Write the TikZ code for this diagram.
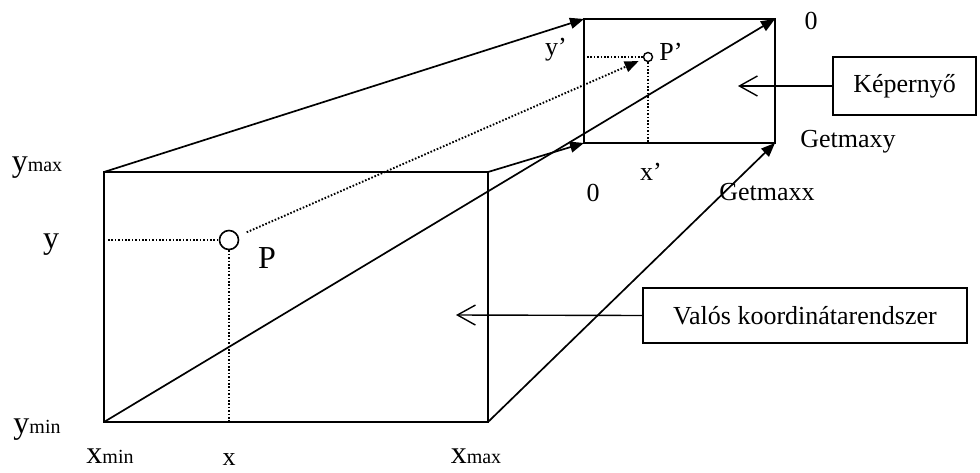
\documentclass[tikz,border=0pt]{standalone}
\usepackage{fontspec}
\setmainfont{Liberation Serif}
\usetikzlibrary{arrows.meta}
\begin{document}
\begin{tikzpicture}[x=1pt,y=-1pt,
  edge/.style={line width=1.7pt},
  fwd/.style={edge,-{Triangle[length=14pt,width=11pt]}},
  dotl/.style={line width=1.9pt,dash pattern=on 1.6pt off 1.8pt},
  lbl/.style={inner sep=0pt,font=\fontsize{26}{30}\selectfont},
  big/.style={inner sep=0pt,font=\fontsize{32}{36}\selectfont},
  callout/.style={draw,line width=1.6pt,inner sep=0pt,font=\fontsize{26}{30}\selectfont},
  pointer/.style={line width=1.4pt,-{Straight Barb[length=18pt,width=20pt,line width=1.4pt]}}]
\useasboundingbox (0,0) rectangle (980,472);
% real world rectangle
\coordinate (A) at (104,172);
\coordinate (B) at (488,172);
\coordinate (C) at (488,422);
\coordinate (D) at (104,422);
% screen rectangle
\coordinate (E) at (584,19);
\coordinate (F) at (775,19);
\coordinate (G) at (775,143);
\coordinate (H) at (584,143);
\draw[edge] (A) -- (B) -- (C) -- (D) -- cycle;
\draw[edge] (E) -- (F) -- (G) -- (H) -- cycle;
\draw[fwd] (A) -- (E);
\draw[fwd] (D) -- (F);
\draw[fwd] (B) -- (H);
\draw[fwd] (C) -- (G);
% point P
\node[circle,draw,line width=1.6pt,minimum size=19pt,inner sep=0pt] (P) at (229,240) {};
\coordinate (Py0) at (108,240);
\coordinate (Px0) at (229,422);
\draw[dotl] (Py0) -- (P.west);
\draw[dotl] (P.south) -- (Px0);
% point P'
\node[circle,draw,line width=1.4pt,minimum size=9pt,inner sep=0pt] (Q) at (648,57) {};
\coordinate (Qy0) at (587,57);
\coordinate (Qx0) at (648,143);
\draw[dotl] (Qy0) -- (Q.west);
\draw[dotl] (Q.south) -- (Qx0);
\draw[dotl,-{Triangle[length=14pt,width=11pt]}] (P) -- (Q) [shorten <=9pt, shorten >=5pt];
% labels
\node[inner sep=0pt] (ymax) at (37,168) {\fontsize{32}{36}\selectfont y\fontsize{20}{24}\selectfont max};
\node[big] (ylab) at (51,245) {y};
\node[inner sep=0pt] (ymin) at (37,430) {\fontsize{32}{36}\selectfont y\fontsize{20}{24}\selectfont min};
\node[inner sep=0pt,anchor=base] (xmin) at (110,463) {\fontsize{32}{36}\selectfont x\fontsize{20}{24}\selectfont min};
\node[inner sep=0pt,anchor=base,font=\fontsize{26}{30}\selectfont] (xlab) at (229,465) {x};
\node[inner sep=0pt,anchor=base] (xmax) at (476,463) {\fontsize{32}{36}\selectfont x\fontsize{20}{24}\selectfont max};
\node[big] (Plab) at (267,258) {P};
\node[lbl] (Qlab) at (671,52) {P’};
\node[lbl] (yp) at (556,50) {y’};
\node[lbl] (xp) at (651,172) {x’};
\node[lbl] (zero1) at (593,193) {0};
\node[lbl] (zero2) at (811,21) {0};
\node[lbl] (gmx) at (767,192) {Getmaxx};
\node[lbl] (gmy) at (848,142) {Getmaxy};
% callouts
\node[callout,minimum width=143pt,minimum height=58pt] (kep) at (904.5,86) {Képernyő};
\node[callout,minimum width=324pt,minimum height=55pt] (val) at (805,315.5) {Valós koordinátarendszer};
\coordinate (kepT) at (738,86);
\coordinate (valT) at (456,315);
\draw[pointer] (kep.west) -- (kepT);
\draw[pointer] (val.west) -- (valT);
\end{tikzpicture}
\end{document}
